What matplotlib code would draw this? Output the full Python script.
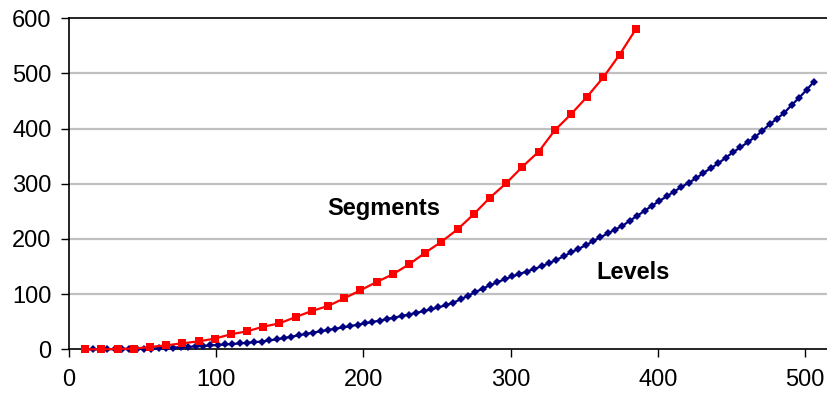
import matplotlib
matplotlib.use("Agg")
import matplotlib.pyplot as plt

plt.rcParams['font.family'] = ['Liberation Sans', 'DejaVu Sans']

# Segments series (red squares)
seg_x = [11, 22, 33, 44, 55, 66, 77, 88, 99, 110, 121, 132, 143, 154, 165, 176,
         187, 198, 209, 220, 231, 242, 253, 264, 275, 286, 297, 308, 319, 330,
         341, 352, 363, 374, 385]
seg_y = [0, 0, 0.6, 1.2, 4.2, 7.2, 10.8, 14.4, 19.3, 27.2, 32.6, 41, 47, 58.5,
         69.4, 78.5, 92.4, 107, 122, 136, 154, 175, 195, 217.5, 245, 275, 301,
         331, 358, 397, 426, 458, 493, 534, 580]

# Levels series (navy diamonds)
lev_x = list(range(11, 507, 5))
lev_y = [0, 0, 0, 0.2, 0.3, 0.4, 0.5, 0.6, 0.8, 1.2,
         1.7, 2.3, 3.0, 3.7, 4.4, 5.2, 6.0, 6.9, 7.8, 8.7,
         9.6, 10.6, 11.7, 12.9, 14.1, 16, 18, 20.3, 22.8, 25.3,
         27.8, 30.3, 32.7, 35, 37.3, 39.6, 42, 44.5, 47, 49.5,
         52, 54.7, 57.5, 60.2, 63, 66, 69.2, 72.5, 76, 80,
         84.5, 90.5, 97, 103.5, 110, 116, 121.5, 127, 132, 136.5,
         141, 145.5, 150.5, 156, 162, 168.5, 175.5, 182, 188.5, 196,
         203, 210, 217, 224, 233, 242, 251, 260, 269, 277,
         286, 294, 302, 310, 320, 328, 337, 347, 357, 366,
         375, 385, 396, 408, 418, 429, 443, 456, 470, 485]

x_ticks = [0, 100, 200, 300, 400, 500]
y_ticks = [0, 100, 200, 300, 400, 500, 600]

fig = plt.figure(figsize=(8.28, 3.98), dpi=100)
ax = fig.add_axes([0.0833, 0.1224, 0.9167, 0.8316])

ax.set_xlim(0, 515.6)
ax.set_ylim(0, 600)

for yv in y_ticks[1:-1]:
    ax.axhline(yv, color='#C0C0C0', linewidth=1.6, zorder=1)

ax.plot(seg_x, seg_y, color='#FF0000', linewidth=1.6, marker='s',
        markersize=5.2, markeredgewidth=0, zorder=4, clip_on=False)
ax.plot(lev_x, lev_y, color='#000080', linewidth=1.6, marker='D',
        markersize=4.2, markeredgewidth=0, zorder=3, clip_on=False)

ax.text(214, 256, 'Segments', fontsize=17, fontweight='bold',
        ha='center', va='center')
ax.text(383, 140, 'Levels', fontsize=17, fontweight='bold',
        ha='center', va='center')

ax.set_xticks(x_ticks)
ax.set_yticks(y_ticks)
ax.tick_params(axis='y', direction='out', length=5.5, width=1,
               labelsize=17, pad=7, colors='black')
ax.tick_params(axis='x', direction='out', length=5.5, width=1,
               labelsize=17, pad=9, colors='black')

for side in ['left', 'bottom', 'top']:
    ax.spines[side].set_linewidth(1.2)
    ax.spines[side].set_color('black')
ax.spines['right'].set_visible(False)

fig.savefig('out.png', dpi=100)
